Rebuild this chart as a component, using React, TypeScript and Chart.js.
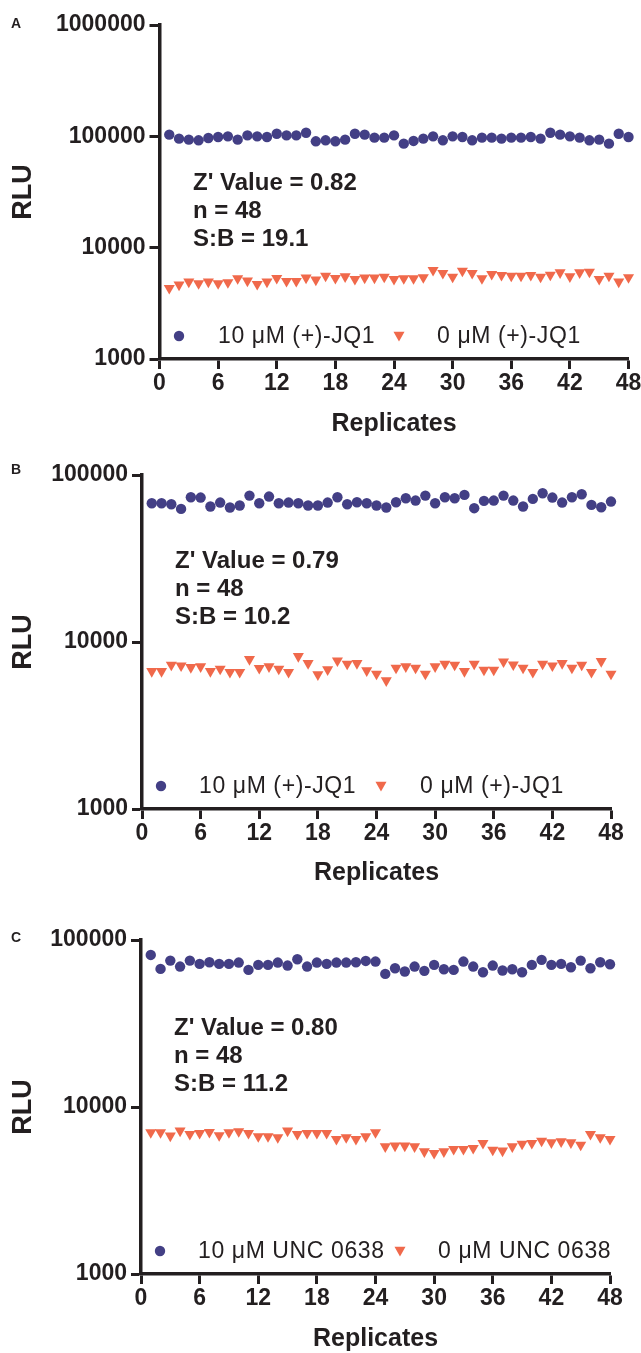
import { useEffect, useRef } from 'react';
import { Chart, registerables } from 'chart.js';

Chart.register(...registerables);

const REPLICATES = [1, 2, 3, 4, 5, 6, 7, 8, 9, 10, 11, 12, 13, 14, 15, 16, 17, 18, 19, 20, 21, 22, 23, 24,
  25, 26, 27, 28, 29, 30, 31, 32, 33, 34, 35, 36, 37, 38, 39, 40, 41, 42, 43, 44, 45, 46, 47, 48];
const X_TICKS = [0, 6, 12, 18, 24, 30, 36, 42, 48];
const Y_TICKS_A = [1000, 10000, 100000, 1000000];
const Y_TICKS_BC = [1000, 10000, 100000];

const A_JQ1_10 = [103500, 95300, 93400, 92100, 96600, 98600, 100000, 93400, 102000, 100000, 98600, 105600,
  102000, 102000, 107800, 90200, 92100, 90200, 93400, 105600, 103500, 97300, 97300, 102000,
  86000, 90900, 95300, 100000, 92100, 100000, 98600, 92100, 97300, 97300, 95300, 97300,
  97300, 98600, 95300, 107800, 103500, 100000, 97300, 92100, 93400, 86000, 105600, 98600];
const A_JQ1_0 = [4335, 4642, 4935, 4772, 4935, 4772, 4870, 5288, 5040, 4705, 4935, 5324,
  5005, 5005, 5360, 5144, 5585, 5324, 5510, 5215, 5360, 5360, 5470, 5215,
  5288, 5288, 5400, 6272, 5900, 5470, 6187, 5900, 5288, 5780, 5662, 5585,
  5585, 5662, 5470, 5700, 5980, 5510, 5980, 6065, 5215, 5585, 4935, 5400];

const B_JQ1_10 = [67760, 67760, 66830, 62680, 73590, 73260, 64740, 68390, 63860, 65640, 75290, 67760,
  74270, 67760, 68390, 67760, 65640, 65640, 68390, 73590, 66830, 68710, 67760, 65640,
  63860, 68710, 72580, 70300, 75290, 67760, 73590, 72580, 75980, 63280, 69980, 70300,
  75290, 70300, 64740, 71910, 77750, 73260, 68390, 73590, 76700, 66230, 64150, 69340];
const B_JQ1_0 = [6683, 6683, 7291, 7221, 7062, 7126, 6683, 6902, 6593, 6593, 7883, 6966,
  7126, 6902, 6593, 8213, 7460, 6385, 6840, 7740, 7390, 7460, 6745, 6445,
  5880, 6998, 7126, 6998, 6445, 7126, 7390, 7291, 6683, 7390, 6808, 6808,
  7633, 7324, 6998, 6593, 7390, 7221, 7460, 6998, 7291, 6593, 7668, 6445];

const C_UNC_10 = [81400, 67150, 75290, 69340, 75290, 71910, 73590, 71910, 71910, 73260, 66230, 70960,
  70960, 73260, 70300, 76700, 69340, 73260, 71910, 73260, 73260, 73590, 74930, 74270,
  62680, 67760, 64740, 69340, 65350, 70960, 66830, 66230, 74270, 69340, 64150, 70300,
  65640, 66830, 64150, 70960, 75980, 70960, 71910, 68710, 75290, 67760, 73590, 71580];
const C_UNC_0 = [7043, 7043, 6724, 7207, 6880, 6980, 7075, 6755, 7043, 7140, 6980, 6665,
  6665, 6575, 7207, 6880, 6980, 6980, 6980, 6425, 6575, 6425, 6665, 7043,
  5800, 5855, 5855, 5800, 5415, 5290, 5415, 5590, 5590, 5668, 6074, 5540,
  5465, 5800, 6018, 6074, 6272, 6130, 6215, 6130, 5935, 6880, 6575, 6425];

const STATS_A = ["Z' Value = 0.82", 'n = 48', 'S:B = 19.1'];
const STATS_B = ["Z' Value = 0.79", 'n = 48', 'S:B = 10.2'];
const STATS_C = ["Z' Value = 0.80", 'n = 48', 'S:B = 11.2'];
const LEGEND_JQ1 = ['10 \u03BCM (+)-JQ1', '0 \u03BCM (+)-JQ1'];
const LEGEND_UNC = ['10 \u03BCM UNC 0638', '0 \u03BCM UNC 0638'];

const W = 641;
const FONT = '"Liberation Sans", Arial, Helvetica, sans-serif';
const TEXT = '#231f20';
const AXIS = '#231f20';
const BLUE = '#433f85';
const RED = '#f0694b';
const CIRCLE_R = 5.2;
const TRI_R = 6.4;

type Panel = {
  letter: string;
  height: number;
  area: { left: number; top: number; right: number; bottom: number };
  yMax: number;
  yTicks: number[];
  high: number[];
  low: number[];
  stats: string[];
  statsX: number;
  statsY: number;
  legend: string[];
  legendY: number;
  legendX: [number, number, number, number];
  letterX: number;
  letterY: number;
  xTitleY: number;
};

const PANELS: Panel[] = [
  {
    letter: 'A', height: 450,
    area: { left: 159.5, top: 25, right: 628.5, bottom: 359 },
    yMax: 1000000, yTicks: Y_TICKS_A, high: A_JQ1_10, low: A_JQ1_0,
    stats: STATS_A, statsX: 193, statsY: 183,
    legend: LEGEND_JQ1, legendY: 336, legendX: [179, 218, 399, 437],
    letterX: 11, letterY: 24, xTitleY: 424,
  },
  {
    letter: 'B', height: 450,
    area: { left: 142, top: 25, right: 611, bottom: 359 },
    yMax: 100000, yTicks: Y_TICKS_BC, high: B_JQ1_10, low: B_JQ1_0,
    stats: STATS_B, statsX: 175, statsY: 111,
    legend: LEGEND_JQ1, legendY: 336, legendX: [161, 199, 381, 420],
    letterX: 11, letterY: 20, xTitleY: 423,
  },
  {
    letter: 'C', height: 453,
    area: { left: 141, top: 40, right: 610, bottom: 374 },
    yMax: 100000, yTicks: Y_TICKS_BC, high: C_UNC_10, low: C_UNC_0,
    stats: STATS_C, statsX: 174, statsY: 128,
    legend: LEGEND_UNC, legendY: 351, legendX: [160, 198, 400, 438],
    letterX: 11, letterY: 38, xTitleY: 439,
  },
];

function drawTriangleDown(ctx: CanvasRenderingContext2D, x: number, y: number, r: number) {
  ctx.beginPath();
  ctx.moveTo(x, y + r);
  ctx.lineTo(x - r * Math.sin(Math.PI / 3), y - r / 2);
  ctx.lineTo(x + r * Math.sin(Math.PI / 3), y - r / 2);
  ctx.closePath();
  ctx.fill();
}

function makeOverlay(p: Panel) {
  return {
    id: 'overlay' + p.letter,
    afterDraw(chart: any) {
      const ctx: CanvasRenderingContext2D = chart.ctx;
      ctx.save();
      ctx.fillStyle = TEXT;
      ctx.textBaseline = 'middle';
      ctx.textAlign = 'left';
      ctx.font = `bold 14px ${FONT}`;
      ctx.fillText(p.letter, p.letterX, p.letterY);

      ctx.font = `bold 24px ${FONT}`;
      p.stats.forEach((s, i) => ctx.fillText(s, p.statsX, p.statsY + i * 28));

      // legend
      ctx.fillStyle = BLUE;
      ctx.beginPath();
      ctx.arc(p.legendX[0], p.legendY, CIRCLE_R, 0, Math.PI * 2);
      ctx.fill();
      ctx.fillStyle = RED;
      drawTriangleDown(ctx, p.legendX[2], p.legendY - 1, TRI_R);
      ctx.fillStyle = TEXT;
      ctx.font = `23px ${FONT}`;
      (ctx as any).letterSpacing = '0.6px';
      ctx.fillText(p.legend[0], p.legendX[1], p.legendY + 1);
      ctx.fillText(p.legend[1], p.legendX[3], p.legendY + 1);
      ctx.restore();
    },
  };
}

function PanelChart({ p }: { p: Panel }) {
  const ref = useRef<HTMLCanvasElement | null>(null);
  useEffect(() => {
    if (!ref.current) return;
    const H = p.height;
    const tickFont = { family: FONT, size: 23, weight: 'bold' as const, lineHeight: 1 };
    const chart = new Chart(ref.current, {
      type: 'scatter',
      data: {
        datasets: [
          {
            label: p.legend[0],
            data: REPLICATES.map((x, i) => ({ x, y: p.high[i] })),
            pointStyle: 'circle',
            pointRadius: CIRCLE_R,
            pointHoverRadius: CIRCLE_R,
            backgroundColor: BLUE,
            borderColor: BLUE,
            borderWidth: 0,
            clip: false as any,
          },
          {
            label: p.legend[1],
            data: REPLICATES.map((x, i) => ({ x, y: p.low[i] })),
            pointStyle: 'triangle',
            rotation: 180,
            pointRadius: TRI_R,
            pointHoverRadius: TRI_R,
            backgroundColor: RED,
            borderColor: RED,
            borderWidth: 0,
            clip: false as any,
          },
        ],
      },
      options: {
        animation: false,
        responsive: false,
        events: [],
        layout: { padding: { left: 0, top: p.area.top, right: W - p.area.right, bottom: 0 } },
        plugins: { legend: { display: false }, tooltip: { enabled: false }, title: { display: false } },
        scales: {
          x: {
            type: 'linear',
            position: 'bottom',
            min: 0,
            max: 48,
            afterBuildTicks: (s: any) => { s.ticks = X_TICKS.map((v) => ({ value: v })); },
            afterFit: (s: any) => { s.height = H - p.area.bottom; s.paddingLeft = 0; s.paddingRight = 0; },
            grid: { display: true, drawOnChartArea: false, drawTicks: true, tickLength: 10, tickWidth: 3, color: AXIS, tickColor: AXIS },
            border: { display: true, width: 3.5, color: AXIS },
            ticks: { font: tickFont, color: TEXT, padding: 3, maxRotation: 0, autoSkip: false, callback: (v: any) => String(v) },
            title: {
              display: true, text: 'Replicates', color: TEXT,
              font: { family: FONT, size: 25, weight: 'bold', lineHeight: 1 },
              padding: { top: 0, bottom: H - p.xTitleY - 12.5 },
            },
          },
          y: {
            type: 'logarithmic',
            position: 'left',
            min: 1000,
            max: p.yMax,
            afterBuildTicks: (s: any) => { s.ticks = p.yTicks.map((v) => ({ value: v })); },
            afterFit: (s: any) => { s.width = p.area.left; s.paddingTop = 0; s.paddingBottom = 0; },
            grid: { display: true, drawOnChartArea: false, drawTicks: true, tickLength: 10, tickWidth: 3, color: AXIS, tickColor: AXIS },
            border: { display: true, width: 3.5, color: AXIS },
            ticks: { font: tickFont, color: TEXT, padding: 4, autoSkip: false, callback: (v: any) => String(v) },
            title: {
              display: true, text: 'RLU', color: TEXT,
              font: { family: FONT, size: 27, weight: 'bold', lineHeight: 1 },
              padding: { top: 10, bottom: 0 },
            },
          },
        },
      } as any,
      plugins: [makeOverlay(p)],
    });
    return () => chart.destroy();
  }, [p]);
  return <canvas ref={ref} width={W} height={p.height} style={{ display: 'block', width: W, height: p.height }} />;
}

export default function App() {
  return (
    <div style={{ position: 'absolute', left: 0, top: 0, width: W, background: '#fff' }}>
      {PANELS.map((p) => (
        <PanelChart key={p.letter} p={p} />
      ))}
    </div>
  );
}
